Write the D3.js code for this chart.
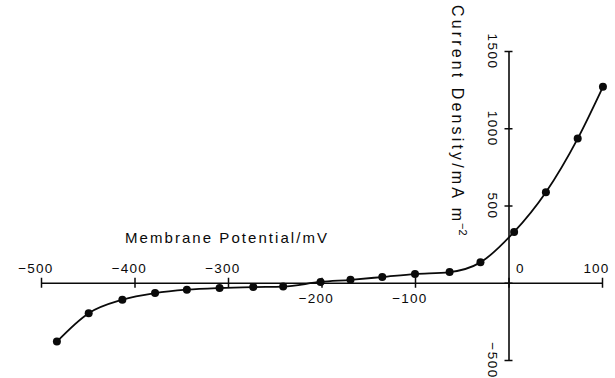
<!DOCTYPE html>
<html>
<head>
<meta charset="utf-8">
<script src="https://cdn.jsdelivr.net/npm/d3@7"></script>
<style>
  html, body { margin: 0; padding: 0; background: #fff; }
  svg { display: block; font-family: "Liberation Sans", Arial, sans-serif; }
</style>
</head>
<body>
<div id="chart"></div>
<script>
// values
const potential = [-483, -449, -413, -378, -344, -309, -273, -241, -201, -169, -135, -100, -63, -30, 6, 40, 74, 101];
const density   = [-381, -197, -110, -67, -45, -34, -28, -25, 5, 19, 37, 56, 69, 132, 329, 586, 933, 1268];

const xTicks = [-500, -400, -300, -200, -100, 0, 100];
const yTicks = [-500, 0, 500, 1000, 1500];
const belowLabels = [-200, -100]; // these sit under the axis in the original

const width = 615, height = 378;
const ink = "#0a0a0a";

const svg = d3.select("#chart").append("svg")
  .attr("width", width)
  .attr("height", height);

const x = d3.scaleLinear().domain([-500, 100]).range([41, 602]);
const y = d3.scaleLinear().domain([-500, 1500]).range([360, 51]);

const fmt = d => d < 0 ? "\u2212" + Math.abs(d) : String(d);

// x axis, crossing at zero current
const gx = svg.append("g")
  .attr("transform", `translate(0,${y(0)})`)
  .call(d3.axisBottom(x).tickValues(xTicks).tickSize(5).tickSizeOuter(0).tickFormat(fmt));

gx.select(".domain").attr("stroke", ink).attr("stroke-width", 1.6);
gx.selectAll(".tick line")
  .attr("y1", -5).attr("y2", 5)
  .attr("stroke", ink).attr("stroke-width", 1.5);
gx.selectAll(".tick text")
  .attr("fill", ink)
  .attr("font-size", 13.5)
  .attr("letter-spacing", 1.2)
  .attr("dy", null)
  .each(function (d) {
    const t = d3.select(this);
    const below = belowLabels.includes(d);
    t.attr("y", below ? 20 : -10);
    if (d === 0) t.attr("text-anchor", "start").attr("x", 7);
    else if (d > 0) t.attr("text-anchor", "end").attr("x", 7);
    else t.attr("text-anchor", "end").attr("x", 12);
  });

// y axis at zero potential
const gy = svg.append("g")
  .attr("transform", `translate(${x(0)},0)`)
  .call(d3.axisLeft(y).tickValues(yTicks).tickSize(4).tickSizeOuter(0).tickFormat(d => d === 0 ? "" : fmt(d)));

gy.select(".domain").attr("stroke", ink).attr("stroke-width", 1.6);
gy.selectAll(".tick line")
  .attr("x1", -4).attr("x2", 4)
  .attr("stroke", ink).attr("stroke-width", 1.5);
gy.selectAll(".tick text")
  .attr("fill", ink)
  .attr("font-size", 13.5)
  .attr("letter-spacing", 1.5)
  .attr("x", null)
  .attr("dy", null)
  .attr("text-anchor", "middle")
  .attr("transform", "translate(-21,0) rotate(90)");

// axis titles
svg.append("text")
  .attr("x", 125).attr("y", 243)
  .attr("font-size", 15)
  .attr("fill", ink)
  .attr("textLength", 202)
  .attr("lengthAdjust", "spacing")
  .text("Membrane Potential/mV");

svg.append("text")
  .attr("transform", "translate(452,5) rotate(90)")
  .attr("font-size", 16)
  .attr("fill", ink)
  .attr("textLength", 216)
  .attr("lengthAdjust", "spacing")
  .text("Current Density/mA m");

svg.append("text")
  .attr("transform", "translate(459,223) rotate(90)")
  .attr("font-size", 11)
  .attr("fill", ink)
  .text("\u22122");

// curve and points
const pts = potential.map((v, i) => ({ v, c: density[i] }));

const line = d3.line()
  .x(d => x(d.v))
  .y(d => y(d.c))
  .curve(d3.curveMonotoneX);

svg.append("path")
  .datum(pts)
  .attr("d", line)
  .attr("fill", "none")
  .attr("stroke", ink)
  .attr("stroke-width", 1.8);

svg.selectAll(".pt").data(pts)
  .join("circle")
  .attr("class", "pt")
  .attr("cx", d => x(d.v))
  .attr("cy", d => y(d.c))
  .attr("r", 4)
  .attr("fill", ink);
</script>
</body>
</html>
